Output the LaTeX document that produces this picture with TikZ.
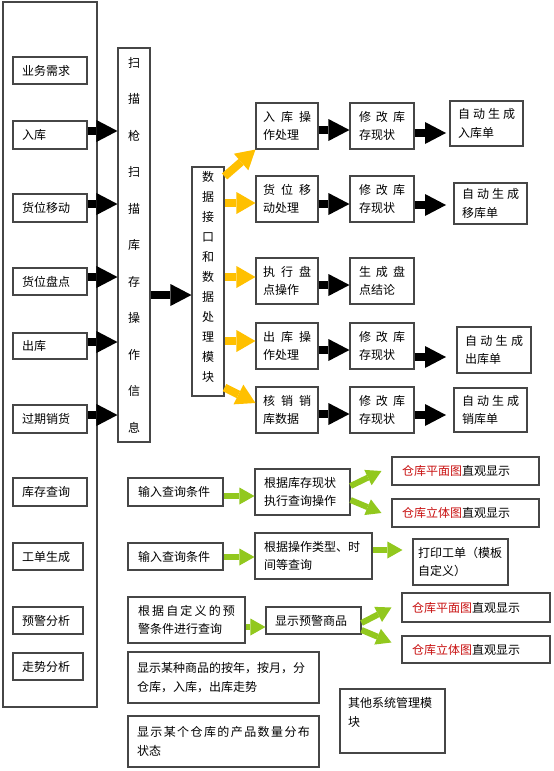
\documentclass[tikz,border=0pt]{standalone}
\usepackage{fontspec}
\setmainfont{Noto Sans CJK SC}
\usetikzlibrary{arrows.meta}
\definecolor{huang}{RGB}{255,192,0}
\definecolor{lv}{RGB}{146,200,30}
\definecolor{hong}{RGB}{200,16,16}
\definecolor{bian}{RGB}{70,70,70}
\newcommand{\hongzi}[1]{\textcolor{hong}{#1}}
\newcommand{\pk}[1]{\makebox[\hsize][s]{\spaceskip=0pt plus 1fil #1}}

\begin{document}
\begin{tikzpicture}[x=1pt,y=1pt,
  box/.style={draw=bian,line width=1.1pt,inner xsep=9pt,inner ysep=0pt,align=left,font=\fontsize{12}{18.5}\selectfont},
  blk/.style={line width=8pt,-{Triangle[length=21pt,width=22pt,line width=0pt]}},
  ylw/.style={huang,line width=8pt,-{Triangle[length=19pt,width=22pt,line width=0pt]}},
  grn/.style={lv,line width=6pt,-{Triangle[length=15pt,width=17pt,line width=0pt]}}]
\useasboundingbox (0,0) rectangle (554,-771);

\node[draw=bian,line width=1.1pt,minimum width=94pt,minimum height=705pt,inner sep=0pt] (kuang) at (50,-354.5) {};

\node[box,text width=56pt,minimum height=27pt] (xq) at (50,-70.5) {业务需求};
\node[box,text width=56pt,minimum height=28pt] (rk) at (50,-135) {入库};
\node[box,text width=56pt,minimum height=28pt] (yd) at (50,-208) {货位移动};
\node[box,text width=56pt,minimum height=27pt] (pd) at (50,-281.5) {货位盘点};
\node[box,text width=56pt,minimum height=26pt] (ck) at (50,-346) {出库};
\node[box,text width=56pt,minimum height=28pt] (xh) at (50,-419) {过期销货};
\node[box,text width=56pt,minimum height=28pt] (cx) at (50,-492) {库存查询};
\node[box,text width=52pt,minimum height=27pt] (gd) at (48,-556.5) {工单生成};
\node[box,text width=52pt,minimum height=27pt] (yj) at (48,-620.5) {预警分析};
\node[box,text width=52pt,minimum height=27pt] (zs) at (48,-666.5) {走势分析};

\node[box,text width=14pt,align=center,minimum height=394pt,font=\fontsize{12}{36.5}\selectfont] (scan) at (134,-245)
  {扫\\描\\枪\\扫\\描\\库\\存\\操\\作\\信\\息};
\node[box,text width=14pt,align=center,minimum height=229pt,font=\fontsize{12}{20}\selectfont] (data) at (208,-281.5)
  {数\\据\\接\\口\\和\\数\\据\\处\\理\\模\\块\\[-10pt]~};

\node[box,inner xsep=7pt,text width=48pt,minimum height=46pt] (m1) at (287,-126) {\pk{入 库 操}\\作处理};
\node[box,inner xsep=7pt,text width=48pt,minimum height=46pt] (m2) at (287,-199) {\pk{货 位 移}\\动处理};
\node[box,inner xsep=7pt,text width=48pt,minimum height=46pt] (m3) at (287,-281) {\pk{执 行 盘}\\点操作};
\node[box,inner xsep=7pt,text width=48pt,minimum height=46pt] (m4) at (287,-346) {\pk{出 库 操}\\作处理};
\node[box,inner xsep=7pt,text width=48pt,minimum height=46pt] (m5) at (287,-410) {\pk{核 销 销}\\库数据};

\node[box,text width=46pt,minimum height=46pt] (r1) at (382,-126) {\pk{修 改 库}\\存现状};
\node[box,text width=46pt,minimum height=46pt] (r2) at (382,-199) {\pk{修 改 库}\\存现状};
\node[box,text width=46pt,minimum height=46pt] (r3) at (382,-281) {\pk{生 成 盘}\\点结论};
\node[box,text width=46pt,minimum height=46pt] (r4) at (382,-346) {\pk{修 改 库}\\存现状};
\node[box,text width=46pt,minimum height=46pt] (r5) at (382,-410) {\pk{修 改 库}\\存现状};

\node[box,inner xsep=8pt,text width=57pt,minimum height=45pt] (f1) at (486.5,-123.5) {\pk{自 动 生 成}\\入库单};
\node[box,inner xsep=8pt,text width=57pt,minimum height=41pt] (f2) at (490.5,-203.5) {\pk{自 动 生 成}\\移库单};
\node[box,inner xsep=8pt,text width=58pt,minimum height=46pt] (f4) at (494,-350) {\pk{自 动 生 成}\\出库单};
\node[box,inner xsep=8pt,text width=57pt,minimum height=44pt] (f5) at (490.5,-410) {\pk{自 动 生 成}\\销库单};

\node[box,inner xsep=10pt,text width=75pt,minimum height=28pt] (q1) at (175.5,-492) {输入查询条件};
\node[box,text width=77pt,minimum height=46pt] (q2) at (302.5,-492) {根据库存现状\\执行查询操作};
\node[box,inner xsep=10pt,text width=127pt,minimum height=28pt] (q3) at (465.5,-471) {\hongzi{仓库平面图}直观显示};
\node[box,inner xsep=10pt,text width=127pt,minimum height=28pt] (q4) at (465.5,-513) {\hongzi{仓库立体图}直观显示};

\node[box,inner xsep=10pt,text width=75pt,minimum height=27pt] (g1) at (175.5,-556.5) {输入查询条件};
\node[box,text width=99pt,minimum height=46pt] (g2) at (313.5,-556) {根据操作类型、时\\间等查询};
\node[box,inner xsep=5pt,text width=85pt,minimum height=46pt] (g3) at (460.5,-562) {打印工单（模板\\自定义）};

\node[box,inner xsep=10pt,text width=97pt,minimum height=46pt] (w1) at (186.5,-620) {\pk{根 据 自 定 义 的 预}\\警条件进行查询};
\node[box,text width=77pt,minimum height=27pt] (w2) at (313.5,-620.5) {显示预警商品};
\node[box,inner xsep=10pt,text width=128pt,minimum height=29pt] (w3) at (476,-607.5) {\hongzi{仓库平面图}直观显示};
\node[box,inner xsep=10pt,text width=128pt,minimum height=27pt] (w4) at (476,-649.5) {\hongzi{仓库立体图}直观显示};

\node[box,text width=173pt,minimum height=51pt] (t1) at (223.5,-677.5) {显示某种商品的按年，按月，分\\仓库，入库，出库走势};
\node[box,text width=173pt,minimum height=51pt] (t2) at (223.5,-741.5) {\pk{显 示 某 个 仓 库 的 产 品 数 量 分 布}\\状态};
\node[box,inner xsep=8pt,text width=89pt,minimum height=64pt] (o1) at (392.5,-721) {其他系统管理模\\块\\~};

% black arrows
\foreach \n/\y in {rk/131,yd/204,pd/277,ck/342,xh/415}
  \draw[blk] (\n.east |- 0,-\y) -- (scan.west |- 0,-\y);
\draw[blk] (scan.east |- 0,-295) -- (data.west |- 0,-295);
\foreach \i/\y in {1/130,2/204,3/285,4/350,5/414}
  \draw[blk] (m\i.east |- 0,-\y) -- (r\i.west |- 0,-\y);
\coordinate (fx) at (446,0);
\foreach \i/\y in {1/133,2/205,4/357,5/415}
  \draw[blk] (r\i.east |- 0,-\y) -- (fx |- 0,-\y);

% yellow arrows
\draw[ylw] ([yshift=-10pt]data.north east) -- (m1.south west);
\foreach \n/\y in {m2/203,m3/277,m4/341}
  \draw[ylw] (data.east |- 0,-\y) -- (\n.west |- 0,-\y);
\draw[ylw] ([yshift=9pt]data.south east) -- ([yshift=7pt]m5.west);

% green arrows
\draw[grn] (q1.east |- 0,-496) -- (q2.west |- 0,-496);
\draw[grn] (q2.east |- 0,-486) -- ([xshift=-10pt]q3.west);
\draw[grn] (q2.east |- 0,-500) -- ([xshift=-10pt]q4.west);
\draw[grn] (g1.east |- 0,-557) -- (g2.west |- 0,-557);
\draw[grn,shorten >=10pt] (g2.east |- 0,-550) -- (g3.west |- 0,-550);
\draw[grn] (w1.east |- 0,-627) -- (w2.west |- 0,-627);
\draw[grn] (w2.east |- 0,-623) -- ([xshift=-10pt]w3.west);
\draw[grn] (w2.east |- 0,-630) -- ([xshift=-10pt,yshift=7pt]w4.west);
\end{tikzpicture}
\end{document}
